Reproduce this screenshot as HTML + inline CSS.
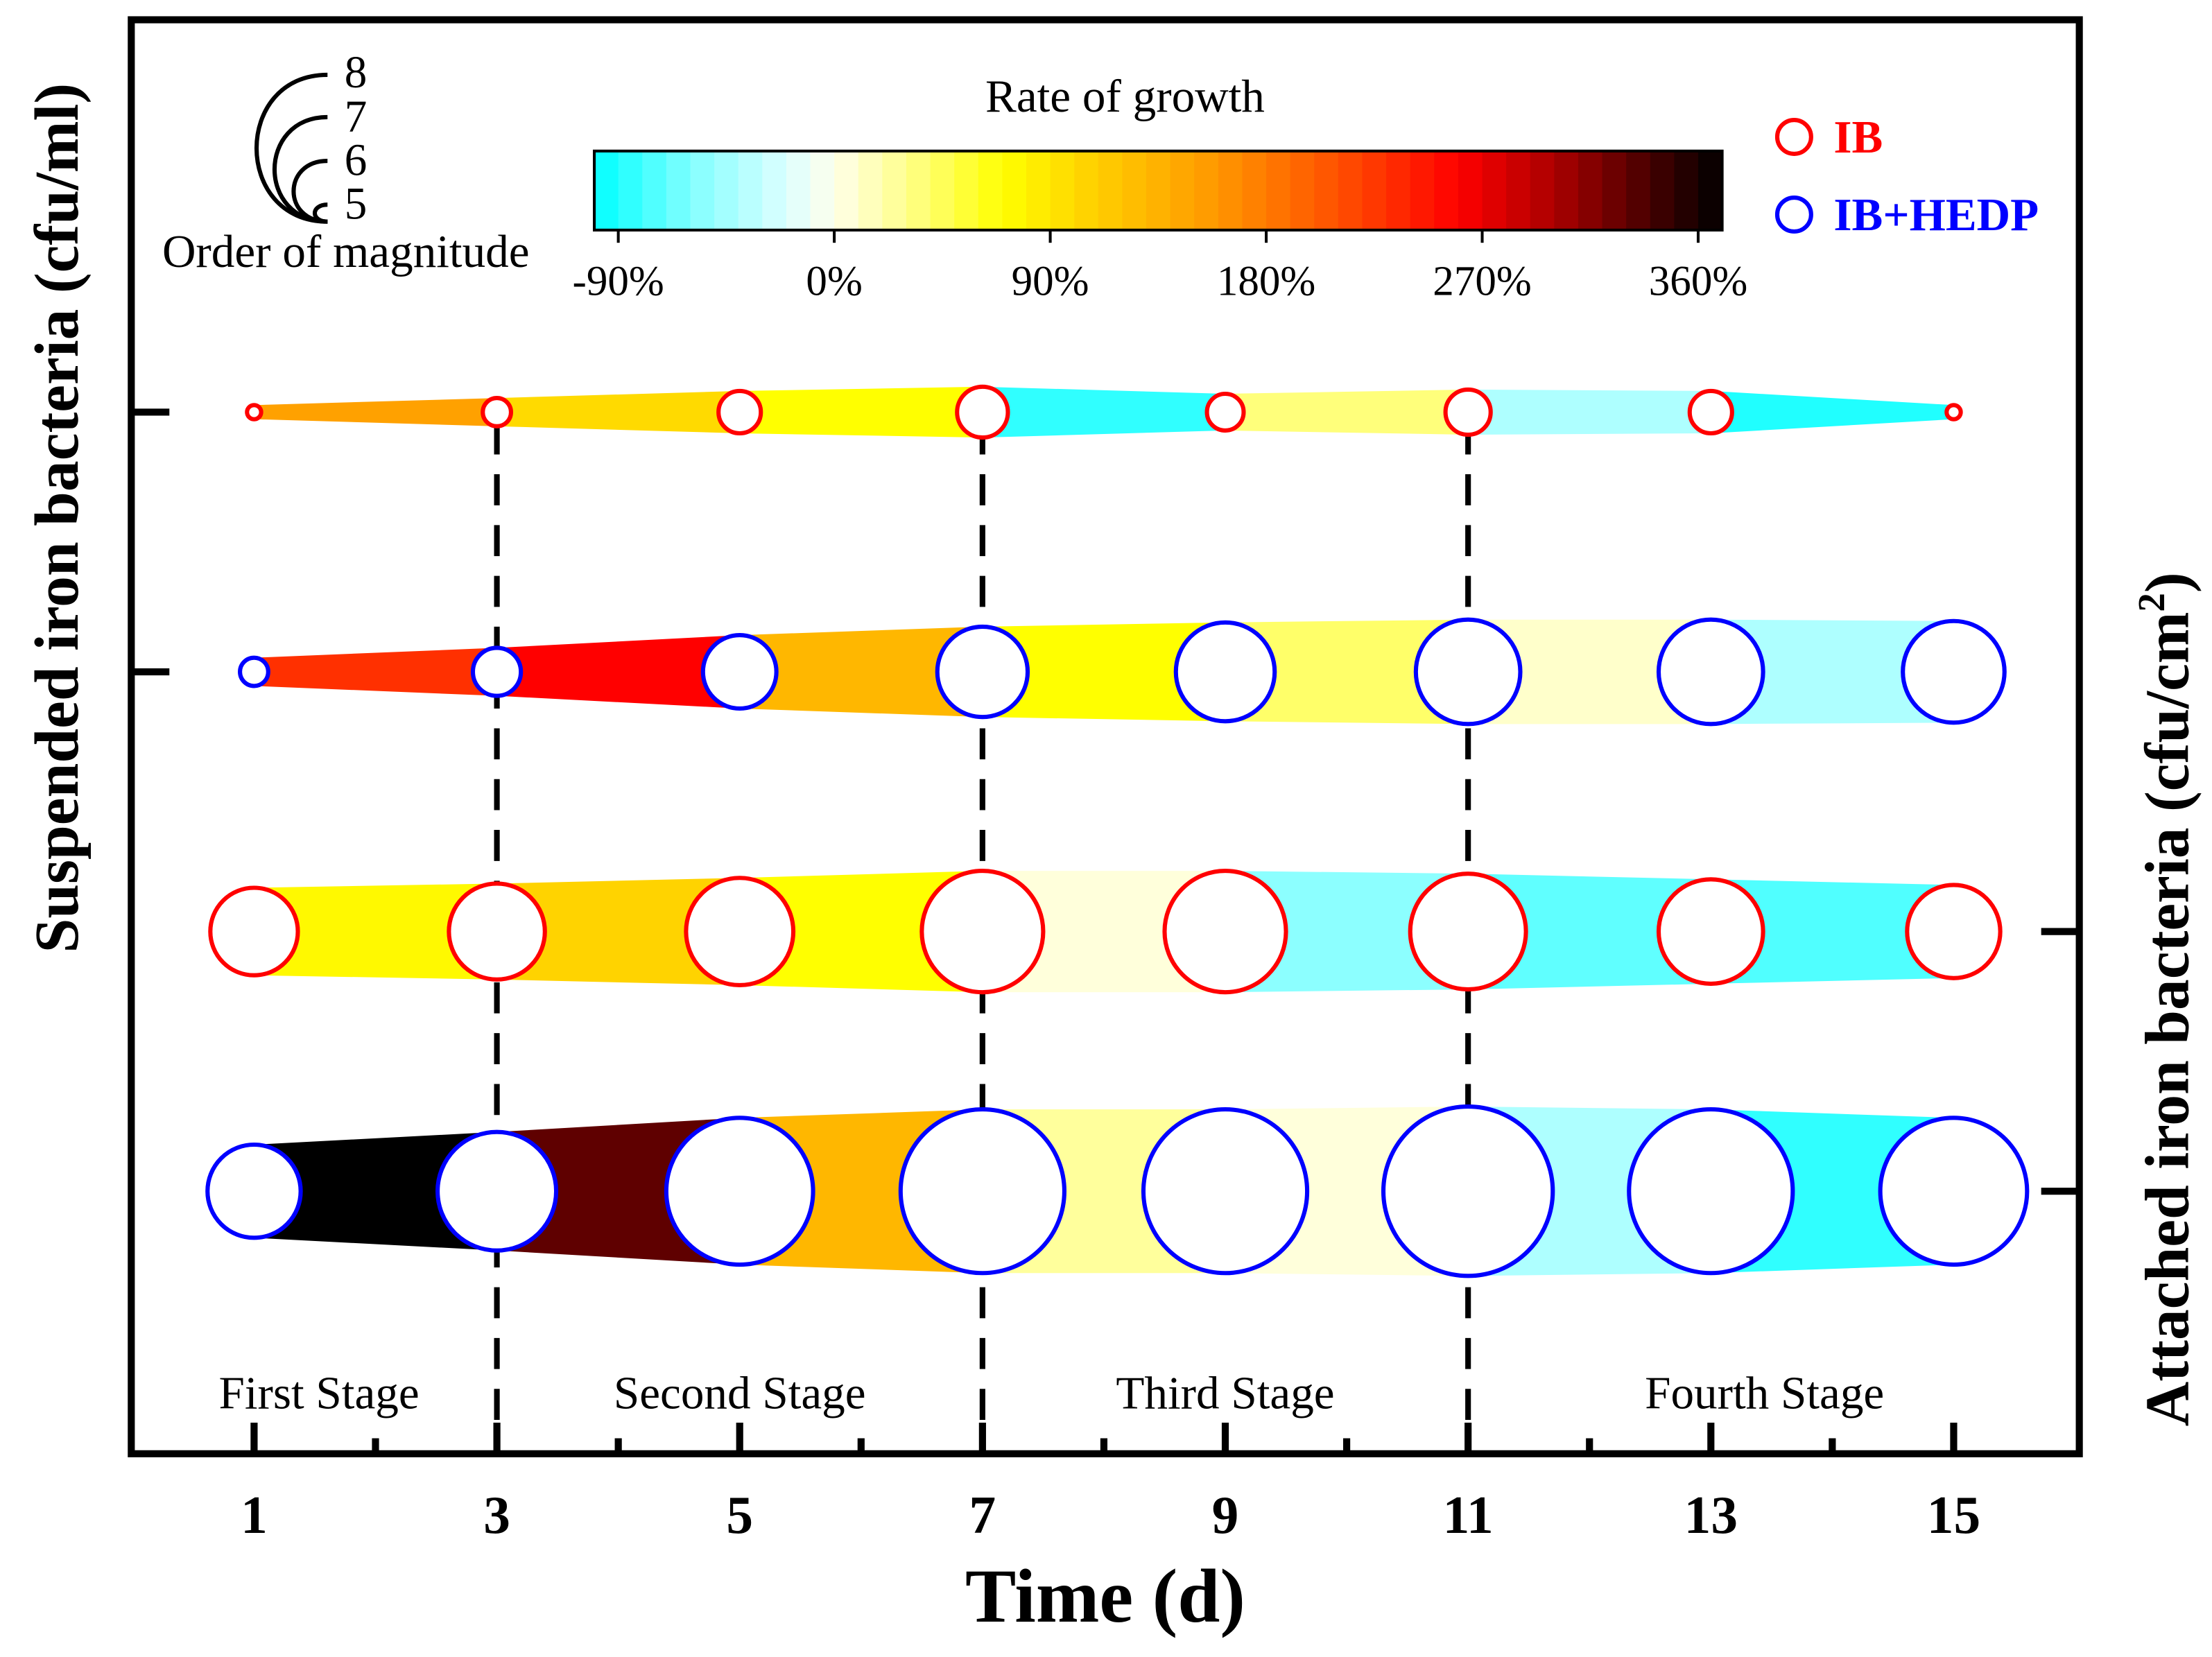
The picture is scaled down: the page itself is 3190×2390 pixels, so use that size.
<!DOCTYPE html>
<html><head><meta charset="utf-8"><style>
html,body{margin:0;padding:0;background:#fff;}
svg{display:block;font-family:"Liberation Serif",serif;}
</style></head><body>
<svg id="chart" width="3190" height="2390" viewBox="0 0 1567 1174" xmlns="http://www.w3.org/2000/svg">
<rect x="0" y="0" width="1567" height="1174" fill="#fff"/>
<g id="bands"></g>
<g id="dashes"></g>
<g id="circles"></g>
<rect x="93" y="14" width="1380" height="1016" fill="none" stroke="#000" stroke-width="5"/>
<g id="axes"></g>
<g id="cbar"></g>
<text x="797" y="79" font-size="33" text-anchor="middle">Rate of growth</text>
<g>
<path d="M232,53 C165,53 165,157 232,157" fill="none" stroke="#000" stroke-width="3"/>
<path d="M232,83 C182,83 182,157 232,157" fill="none" stroke="#000" stroke-width="3"/>
<path d="M232,114 C200,114 200,157 232,157" fill="none" stroke="#000" stroke-width="3"/>
<path d="M232,145 C220,145 220,157 232,157" fill="none" stroke="#000" stroke-width="3"/>
<text x="244" y="62" font-size="32">8</text>
<text x="244" y="93" font-size="32">7</text>
<text x="244" y="124" font-size="32">6</text>
<text x="244" y="155" font-size="32">5</text>
<text x="245" y="189" font-size="33" text-anchor="middle">Order of magnitude</text>
</g>
<g>
<circle cx="1271" cy="97" r="12" fill="#fff" stroke="#f00" stroke-width="3"/>
<text x="1299" y="108" font-size="33" font-weight="bold" fill="#f00">IB</text>
<circle cx="1271" cy="152" r="12" fill="#fff" stroke="#00f" stroke-width="3"/>
<text x="1299" y="163" font-size="33" font-weight="bold" fill="#00f">IB+HEDP</text>
</g>
<text transform="translate(55,367) rotate(-90)" font-size="44" font-weight="bold" text-anchor="middle">Suspended iron bacteria (cfu/ml)</text>
<text transform="translate(1550,708) rotate(-90)" font-size="44" font-weight="bold" text-anchor="middle">Attached iron bacteria (cfu/cm<tspan font-size="27" dy="-17">2</tspan><tspan dy="17">)</tspan></text>
<text x="783" y="1149" font-size="54" font-weight="bold" text-anchor="middle">Time (d)</text>
<text x="226" y="998" font-size="33" text-anchor="middle">First Stage</text>
<text x="524" y="998" font-size="33" text-anchor="middle">Second Stage</text>
<text x="868" y="998" font-size="33" text-anchor="middle">Third Stage</text>
<text x="1250" y="998" font-size="33" text-anchor="middle">Fourth Stage</text>
</svg>
<script>
const days = [1,3,5,7,9,11,13,15];
const rowNames = ['ib-suspended','hedp-suspended','ib-attached','hedp-attached'];
const rowColors = ['#f00','#00f','#f00','#00f'];
const logIbSusp   = [4.75,5.0,5.25,5.4,5.15,5.3,5.25,4.75];
const logHedpSusp = [5.0,5.35,5.8,6.1,6.25,6.35,6.35,6.3];
const logIbAtt    = [6.05,6.2,6.4,6.65,6.65,6.55,6.35,6.15];
const logHedpAtt  = [6.15,6.6,7.1,7.4,7.4,7.5,7.4,7.1];
const rateIbSusp   = [150,100,70,-85,35,-40,-90];
const rateHedpSusp = [230,260,130,70,40,10,-40];
const rateIbAtt    = [75,105,70,5,-55,-70,-75];
const rateHedpAtt  = [370,330,130,25,5,-40,-85];
const xTicks = [1,3,5,7,9,11,13,15];
const cbarTicks = [-90,0,90,180,270,360];
const stageBounds = [3,7,11];

const NS='http://www.w3.org/2000/svg';
function mk(tag,attrs,parent){const e=document.createElementNS(NS,tag);for(const k in attrs)e.setAttribute(k,attrs[k]);parent.appendChild(e);return e;}
const xs = d => 180 + (d-1)*86;
const rowY = [292,476,660,844];
const rad = l => (l-4.5)*20;
const cbx = v => 421 + (v+100)/470*799;
const stops=[[-100,[0,255,255]],[-60,[128,255,255]],[-20,[220,255,255]],[0,[255,255,235]],[30,[255,255,140]],[70,[255,255,0]],[110,[255,205,0]],[160,[255,150,0]],[210,[255,80,0]],[260,[255,0,0]],[300,[170,0,0]],[340,[70,0,0]],[370,[0,0,0]]];
function cmap(v){v=Math.max(-100,Math.min(370,v));for(let i=0;i<stops.length-1;i++){const a=stops[i],b=stops[i+1];if(v<=b[0]){const t=(v-a[0])/(b[0]-a[0]);const c=a[1].map((x,j)=>Math.round(x+(b[1][j]-x)*t));return 'rgb('+c.join(',')+')';}}return 'rgb(0,0,0)';}

const logs=[logIbSusp,logHedpSusp,logIbAtt,logHedpAtt];
const rates=[rateIbSusp,rateHedpSusp,rateIbAtt,rateHedpAtt];
const bands=document.getElementById('bands'),circ=document.getElementById('circles');
for(let r=0;r<4;r++){
  const y=rowY[r];
  for(let i=0;i<days.length-1;i++){
    const x1=xs(days[i]),x2=xs(days[i+1]),r1=rad(logs[r][i]),r2=rad(logs[r][i+1]);
    const p=mk('polygon',{points:`${x1},${y-r1} ${x2},${y-r2} ${x2},${y+r2} ${x1},${y+r1}`,fill:cmap(rates[r][i])},bands);
    
    
  }
}
const dg=document.getElementById('dashes');
stageBounds.forEach(d=>{const l=mk('line',{x1:xs(d),x2:xs(d),y1:300,y2:1022,stroke:'#000','stroke-width':4,'stroke-dasharray':'22,14'},dg);

});
for(let r=0;r<4;r++){
  for(let i=0;i<days.length;i++){
    const c=mk('circle',{cx:xs(days[i]),cy:rowY[r],r:rad(logs[r][i]),fill:'#fff',stroke:rowColors[r],'stroke-width':3},circ);
    
    
  }
}
const ax=document.getElementById('axes');
xTicks.forEach(d=>{mk('line',{x1:xs(d),x2:xs(d),y1:1030,y2:1008,stroke:'#000','stroke-width':5},ax);
const t=mk('text',{x:xs(d),y:1086,'font-size':38,'font-weight':'bold','text-anchor':'middle'},ax);t.textContent=d;

});
[2,4,6,8,10,12,14].forEach(d=>mk('line',{x1:xs(d),x2:xs(d),y1:1030,y2:1019,stroke:'#000','stroke-width':5},ax));
[292,476].forEach(y=>mk('line',{x1:93,x2:120,y1:y,y2:y,stroke:'#000','stroke-width':5},ax));
[660,844].forEach(y=>mk('line',{x1:1446,x2:1473,y1:y,y2:y,stroke:'#000','stroke-width':5},ax));
const cb=document.getElementById('cbar');
for(let v=-100;v<370;v+=10){mk('rect',{x:cbx(v),y:107,width:cbx(v+10)-cbx(v)+0.6,height:56,fill:cmap(v+5)},cb);}
mk('rect',{x:421,y:107,width:799,height:56,fill:'none',stroke:'#000','stroke-width':2},cb);
cbarTicks.forEach(v=>{mk('line',{x1:cbx(v),x2:cbx(v),y1:163,y2:172,stroke:'#000','stroke-width':2},cb);
const t=mk('text',{x:cbx(v),y:209,'font-size':30,'text-anchor':'middle'},cb);t.textContent=v+'%';

});
</script>
</body></html>
